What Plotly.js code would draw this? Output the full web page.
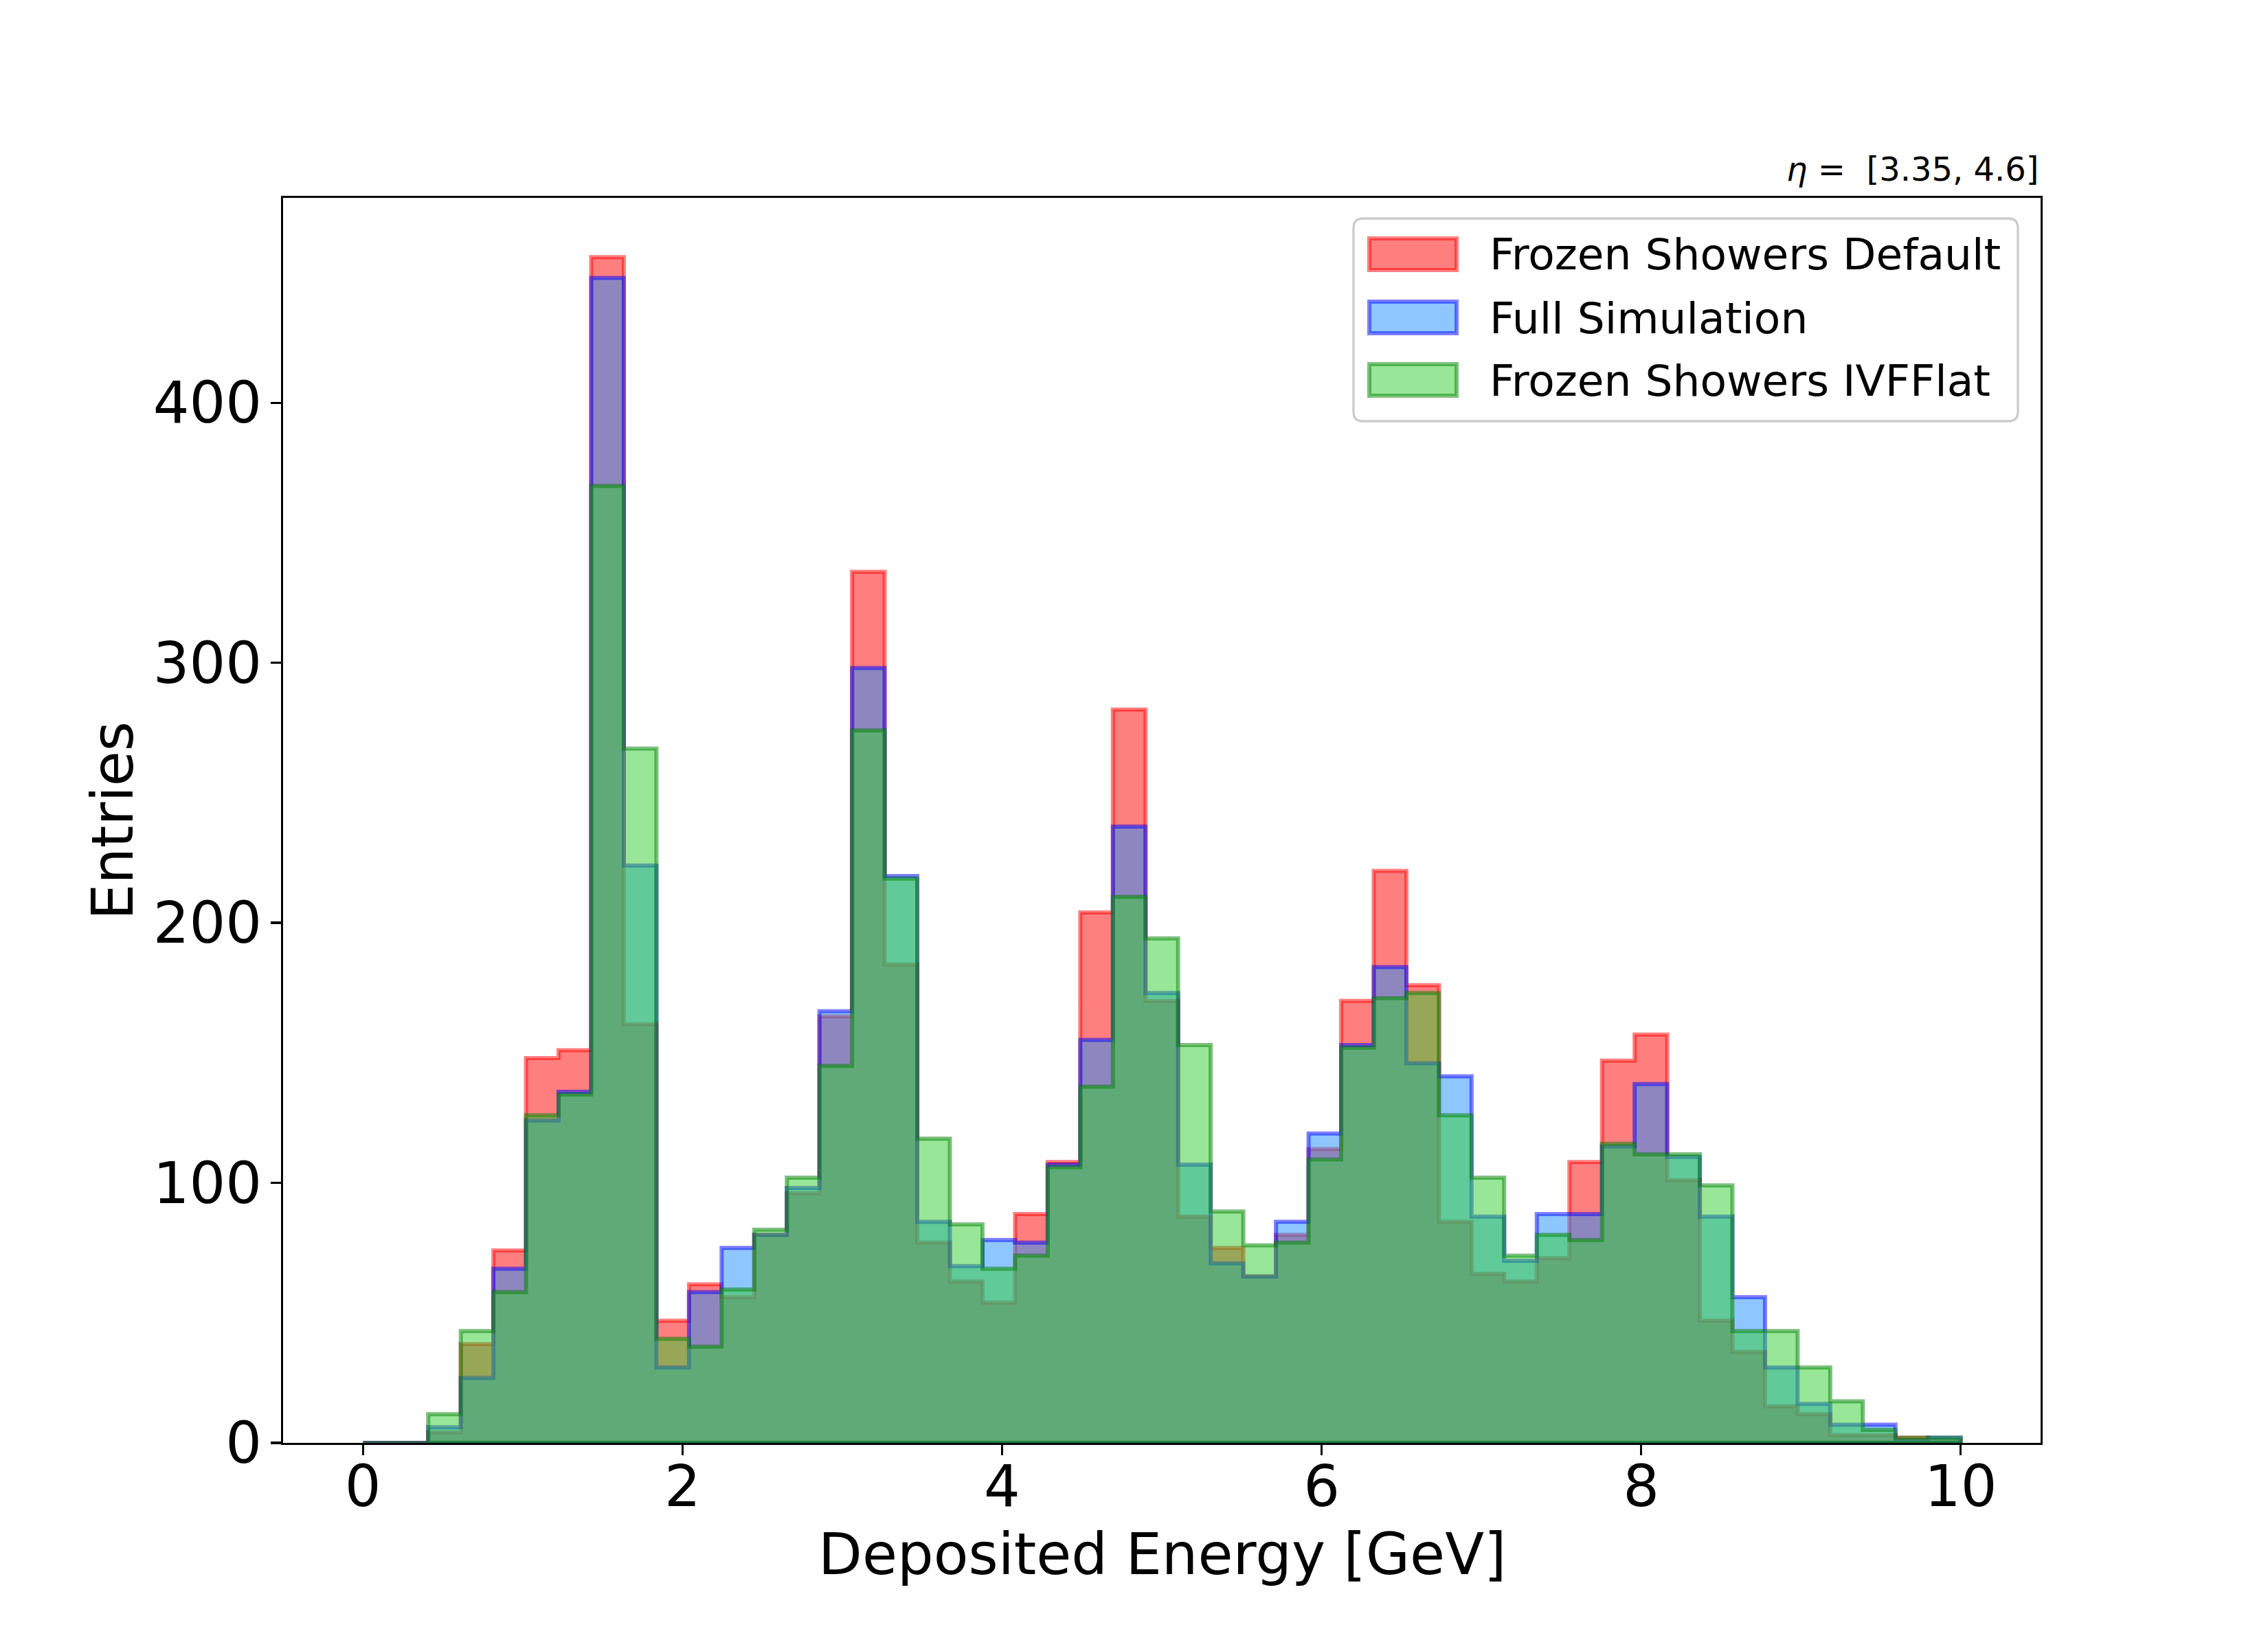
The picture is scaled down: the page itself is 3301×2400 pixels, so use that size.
<!DOCTYPE html>
<html><head><meta charset="utf-8">
<script src="https://cdn.plot.ly/plotly-3.0.1.min.js"></script>
<style>html,body{margin:0;padding:0;background:#fff}</style>
</head><body>
<div id="chart" style="width:3301px;height:2400px"></div>
<script>
// ---- data ----
const binStart = 0;
const binEnd = 10;
const nBins = 49;
const seriesNames = ["Frozen Showers Default", "Full Simulation", "Frozen Showers IVFFlat"];
const countsDefault = [0,0,4,38,74,148,151,456,161,47,61,56,80,96,164,335,184,77,62,54,88,108,204,282,170,87,75,64,80,113,170,220,176,85,65,62,71,108,147,157,101,47,35,14,11,3,3,2,1];
const countsFullSim = [0,0,6,25,67,124,135,448,222,29,58,75,80,98,166,298,218,85,68,78,77,107,155,237,173,107,69,64,85,119,153,183,146,141,87,70,88,88,114,138,110,87,56,29,15,7,7,1,2];
const countsIVFFlat = [0,0,11,43,58,126,134,368,267,40,37,59,82,102,145,274,217,117,84,67,72,106,137,210,194,153,89,76,77,109,152,171,173,126,102,72,80,78,115,111,111,99,43,43,29,16,5,2,2];
const xTickVals = [0,2,4,6,8,10];
const yTickVals = [0,100,200,300,400];
const xTitle = "Deposited Energy [GeV]";
const yTitle = "Entries";
const etaRange = "[3.35, 4.6]";

// ---- styles ----
const fillColors = ["rgba(255,0,0,0.5)", "rgba(30,144,255,0.5)", "rgba(50,205,50,0.5)"];
const edgeColors = ["rgba(255,0,0,0.5)", "rgba(0,0,255,0.5)", "rgba(0,128,0,0.5)"];
const FONT = "DejaVu Sans, Liberation Sans, sans-serif";

const edges = [];
for (let i = 0; i <= nBins; i++) edges.push(binStart + i * (binEnd - binStart) / nBins);

function stepTrace(counts, idx) {
  const x = [edges[0]], y = [0];
  for (let i = 0; i < nBins; i++) { x.push(edges[i]); y.push(counts[i]); }
  x.push(edges[nBins]); y.push(counts[nBins - 1]);
  x.push(edges[nBins]); y.push(0);
  x.push(edges[0]); y.push(0);
  return {
    type: "scatter", mode: "lines", x: x, y: y, name: seriesNames[idx],
    line: {shape: "hv", color: edgeColors[idx], width: 6},
    fill: "toself", fillcolor: fillColors[idx],
    showlegend: false, hoverinfo: "skip"
  };
}
const traces = [stepTrace(countsDefault, 0), stepTrace(countsFullSim, 1), stepTrace(countsIVFFlat, 2)];

// plot area in pixels
const L = 412, R = 2970, T = 288, B = 2100;
const W = R - L, H = B - T;
const px = v => (v - L) / W;
const py = v => (B - v) / H;

// legend (custom)
const shapes = [];
const annotations = [];
(function () {
  const x0 = 1970, x1 = 2937, y0 = 318, y1 = 613, r = 14;
  const rx = r / W, ry = r / H;
  const X0 = px(x0), X1 = px(x1), Y0 = py(y0), Y1 = py(y1);
  const path = `M ${X0 + rx},${Y0} L ${X1 - rx},${Y0} Q ${X1},${Y0} ${X1},${Y0 - ry} L ${X1},${Y1 + ry} Q ${X1},${Y1} ${X1 - rx},${Y1} L ${X0 + rx},${Y1} Q ${X0},${Y1} ${X0},${Y1 + ry} L ${X0},${Y0 - ry} Q ${X0},${Y0} ${X0 + rx},${Y0} Z`;
  shapes.push({type: "path", xref: "paper", yref: "paper", path: path,
    fillcolor: "rgba(255,255,255,0.8)", line: {color: "#cccccc", width: 3.3}, layer: "above"});
  const rowCenters = [370, 462, 553];
  rowCenters.forEach((c, i) => {
    shapes.push({type: "rect", xref: "paper", yref: "paper",
      x0: px(1993), x1: px(2120), y0: py(c - 23), y1: py(c + 23),
      fillcolor: fillColors[i], line: {color: edgeColors[i], width: 6}, layer: "above"});
    annotations.push({xref: "paper", yref: "paper", x: px(2166), y: py(c + 1),
      xanchor: "left", yanchor: "middle", showarrow: false, text: seriesNames[i],
      font: {family: FONT, size: 63, color: "#000"}});
  });
})();

// top-right title
annotations.push({xref: "paper", yref: "paper", x: 1, y: 1, xanchor: "right", yanchor: "bottom",
  yshift: 12, showarrow: false, text: "<i>\u03b7</i> =\u00a0\u00a0" + etaRange,
  font: {family: FONT, size: 48, color: "#000"}});

// axis titles
annotations.push({xref: "paper", yref: "paper", x: px((L + R) / 2), y: py(2262),
  xanchor: "center", yanchor: "middle", showarrow: false, text: xTitle,
  font: {family: FONT, size: 83, color: "#000"}});
annotations.push({xref: "paper", yref: "paper", x: px(164), y: py((T + B) / 2),
  xanchor: "center", yanchor: "middle", showarrow: false, text: yTitle, textangle: -90,
  font: {family: FONT, size: 83, color: "#000"}});

const yMax = 1.05 * Math.max(...countsDefault, ...countsFullSim, ...countsIVFFlat);

const axisCommon = {
  ticks: "outside", ticklen: 15, tickwidth: 3.3, tickcolor: "#000",
  showline: true, linewidth: 3.3, linecolor: "#000", mirror: true,
  showgrid: false, zeroline: false, automargin: false,
  tickfont: {family: FONT, size: 83, color: "#000"}
};

const layout = {
  width: 3301, height: 2400,
  margin: {l: L, r: 3301 - R, t: T, b: 2400 - B, pad: 0},
  paper_bgcolor: "#fff", plot_bgcolor: "#fff",
  showlegend: false,
  xaxis: Object.assign({}, axisCommon, {
    range: [-0.5, 10.5], tickmode: "array", tickvals: xTickVals, ticklabelstandoff: -26
  }),
  yaxis: Object.assign({}, axisCommon, {
    range: [0, yMax], tickmode: "array", tickvals: yTickVals, ticklabelstandoff: -4
  }),
  shapes: shapes,
  annotations: annotations
};

Plotly.newPlot("chart", traces, layout, {staticPlot: true, displayModeBar: false});
</script>
</body></html>
